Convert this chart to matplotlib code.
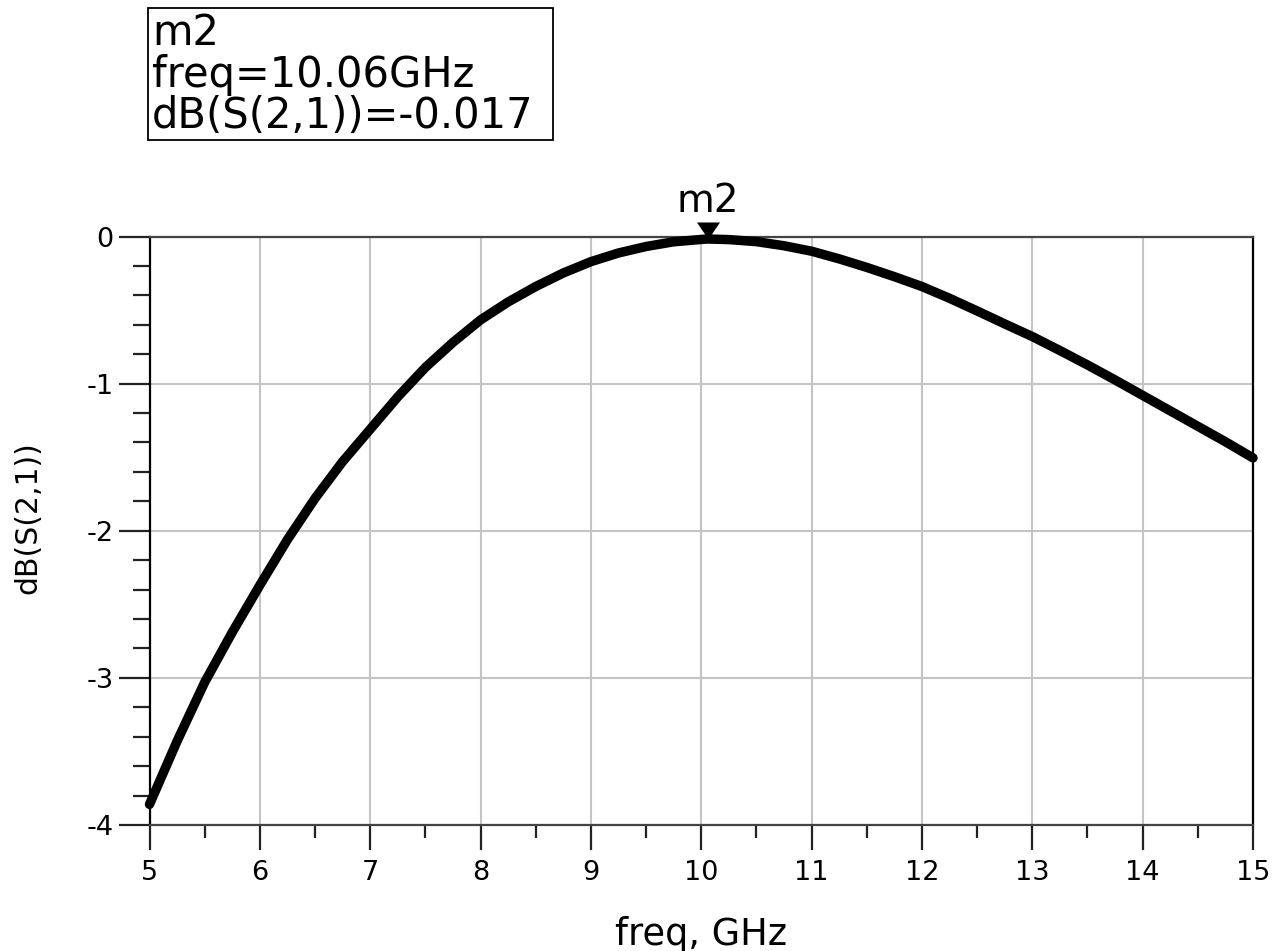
import matplotlib
matplotlib.use("Agg")
import matplotlib.pyplot as plt
from matplotlib.patches import Rectangle
import numpy as np

# ---- data ----
freq_ghz = [5.0, 5.25, 5.5, 5.75, 6.0, 6.25, 6.5, 6.75, 7.0, 7.25, 7.5, 7.75,
            8.0, 8.25, 8.5, 8.75, 9.0, 9.25, 9.5, 9.75, 10.0, 10.06, 10.25,
            10.5, 10.75, 11.0, 11.25, 11.5, 11.75, 12.0, 12.25, 12.5, 12.75,
            13.0, 13.25, 13.5, 13.75, 14.0, 14.25, 14.5, 14.75, 15.0]
s21_db = [-3.86, -3.43, -3.03, -2.69, -2.37, -2.06, -1.78, -1.53, -1.31, -1.09,
          -0.89, -0.72, -0.567, -0.445, -0.34, -0.248, -0.171, -0.112, -0.068,
          -0.036, -0.020, -0.017, -0.021, -0.035, -0.063, -0.100, -0.152,
          -0.210, -0.273, -0.340, -0.420, -0.506, -0.594, -0.680, -0.775,
          -0.873, -0.975, -1.080, -1.185, -1.290, -1.395, -1.505]
marker_name = "m2"
marker_freq = 10.06
marker_val = -0.017
x_ticks = [5, 6, 7, 8, 9, 10, 11, 12, 13, 14, 15]
y_ticks = [-4, -3, -2, -1, 0]
x_label = "freq, GHz"
y_label = "dB(S(2,1))"
box_lines = ["m2", "freq=10.06GHz", "dB(S(2,1))=-0.017"]

W, H = 1282, 951
fig = plt.figure(figsize=(W / 100, H / 100), dpi=100)
plt.rcParams['font.family'] = ['DejaVu Sans']

L, R, T, B = 149.5, 1253, 236.5, 825
ax = fig.add_axes([L / W, 1 - B / H, (R - L) / W, (B - T) / H])

ax.plot(freq_ghz, s21_db, color='black', lw=6.8, solid_capstyle='round',
        solid_joinstyle='round', zorder=5, clip_on=False)

ax.set_xlim(5, 15)
ax.set_ylim(-4, 0)
ax.set_xticks(x_ticks)
ax.set_yticks(y_ticks)
ax.set_xticks(np.arange(5, 15.01, 0.5), minor=True)
ax.set_yticks(np.arange(-4, 0.01, 0.2), minor=True)
ax.set_yticklabels([str(v) for v in y_ticks])

ax.grid(True, which='major', color='#c4c4c4', lw=1.5, zorder=0)
ax.tick_params(axis='both', which='major', direction='out', width=1.6,
               color='#222222', labelsize=19.5)
ax.tick_params(axis='x', which='major', length=18, pad=7)
ax.tick_params(axis='y', which='major', length=22, pad=4)
ax.tick_params(axis='x', which='minor', direction='out', length=9.5, width=1.6, color='#222222')
ax.tick_params(axis='y', which='minor', direction='out', length=12, width=1.6, color='#222222')

for side in ['left', 'right']:
    ax.spines[side].set_color('black')
    ax.spines[side].set_linewidth(1.6)
for side in ['top', 'bottom']:
    ax.spines[side].set_color('#444444')
    ax.spines[side].set_linewidth(1.6)

ax.set_xlabel(x_label, fontsize=26.5)
ax.xaxis.set_label_coords(0.5, (B - 945) / (B - T))
ax.xaxis.label.set_va('baseline')

ax.set_ylabel(y_label, fontsize=21.5)
ax.yaxis.set_label_coords((28 - L) / (R - L), (B - 518) / (B - T))
ax.yaxis.label.set_va('center')

# marker triangle (tip at the marker point)
tri = [(-11.5, 17), (11.5, 17), (0, 0)]
ax.plot([marker_freq], [marker_val], marker=tri, markersize=24.5,
        color='black', markeredgewidth=0, clip_on=False, zorder=6, linestyle='none')
ax.annotate(marker_name, xy=(marker_freq, marker_val), xytext=(0, 27),
            textcoords='offset pixels', ha='center', va='baseline', fontsize=28)

# marker readout box
fig.patches.append(Rectangle((148 / W, 1 - 140 / H), (553 - 148) / W, (140 - 8) / H,
                             transform=fig.transFigure, fill=False,
                             edgecolor='black', lw=1.3))
baselines = [45, 87, 128]
for txt, yb in zip(box_lines, baselines):
    fig.text(152 / W, 1 - yb / H, txt, ha='left', va='baseline', fontsize=30)

fig.savefig("out.png", dpi=100)
